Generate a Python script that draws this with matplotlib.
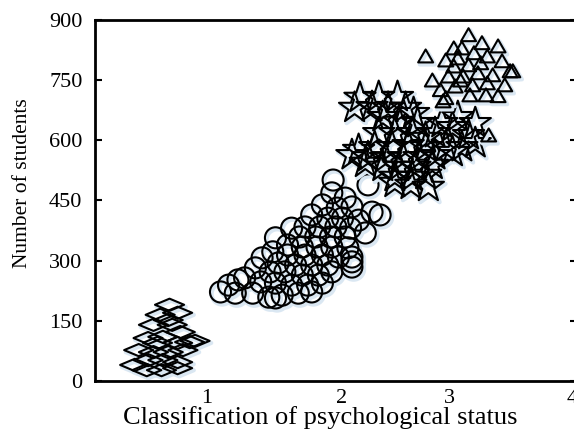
import matplotlib
matplotlib.use("Agg")
import matplotlib.pyplot as plt
import matplotlib.patheffects as pe
from matplotlib.path import Path
from matplotlib.transforms import ScaledTranslation

# marker clusters (x = classification, y = number of students)
diamond_x = [0.72, 0.78, 0.65, 0.71, 0.60, 0.74, 0.80, 0.87, 0.56, 0.67, 0.63, 0.78,
             0.49, 0.60, 0.71, 0.82, 0.46, 0.56, 0.67, 0.78, 0.55, 0.66, 0.78, 0.91]
diamond_y = [190, 170, 165, 152, 140, 140, 122, 97, 107, 110, 95, 95,
             77, 72, 72, 77, 40, 52, 52, 47, 27, 27, 32, 100]

circle_x = [1.94, 2.20, 1.93, 2.03, 1.86, 1.97, 2.08, 2.23, 1.78, 1.90, 2.01, 2.13,
            1.73, 1.84, 1.96, 2.07, 2.18, 1.63, 1.69, 1.81, 1.92, 2.03, 1.60, 1.71,
            1.82, 1.93, 2.05, 1.51, 1.49, 1.60, 1.73, 1.86, 1.98, 2.08, 1.41, 1.53,
            1.66, 1.78, 1.90, 1.36, 1.47, 1.58, 1.71, 1.83, 1.93, 2.08, 1.28, 1.40,
            1.51, 1.63, 1.75, 1.86, 1.16, 1.23, 1.10, 1.21, 1.34, 1.46, 1.56, 1.68,
            1.78, 1.51, 2.29, 2.08]
circle_y = [501, 489, 469, 456, 439, 431, 434, 421, 414, 406, 406, 401,
            384, 384, 384, 381, 369, 381, 359, 359, 359, 359, 339, 334,
            334, 334, 332, 357, 322, 314, 314, 314, 309, 309, 307, 294,
            289, 289, 289, 282, 272, 272, 264, 264, 272, 297, 257, 247,
            244, 239, 239, 244, 239, 252, 222, 219, 219, 209, 214, 219,
            222, 207, 414, 284]

star_x = [2.14, 2.28, 2.42, 2.10, 2.23, 2.35, 2.48, 2.54, 2.31, 2.43, 2.57, 2.75,
          2.87, 3.00, 2.70, 2.83, 2.95, 2.28, 2.40, 2.53, 2.63, 2.13, 2.25, 2.38,
          2.50, 2.63, 2.78, 2.90, 3.00, 2.08, 2.20, 2.33, 2.46, 2.58, 2.70, 2.83,
          2.18, 2.31, 2.43, 2.55, 2.68, 2.40, 2.53, 2.63, 2.40, 2.52, 2.65]
star_y = [706, 708, 708, 681, 683, 681, 681, 668, 658, 646, 643, 643,
          658, 643, 618, 633, 613, 618, 618, 618, 606, 576, 583, 583,
          588, 583, 583, 583, 593, 563, 558, 556, 558, 558, 563, 571,
          544, 534, 534, 534, 539, 509, 509, 514, 494, 489, 484]

tri_x = [2.95, 2.84, 3.05, 3.17, 2.63, 2.90, 2.99, 2.78, 2.87, 3.09, 2.84, 2.95,
         3.04, 3.20, 2.68, 2.80, 2.91, 3.02, 3.13, 3.28, 2.74, 2.85, 2.98, 3.09,
         3.22, 2.78, 2.96, 3.08, 3.17, 3.26, 2.76, 3.10, 2.89]
tri_y = [858, 825, 838, 830, 805, 825, 813, 795, 800, 805, 780, 783,
         788, 793, 745, 755, 755, 763, 758, 768, 721, 730, 733, 738,
         733, 701, 708, 708, 706, 768, 693, 608, 745]

y_ticks = [0, 150, 300, 450, 600, 750, 900]
x_tick_pos = [1, 2, 2.81, 3.72]
x_tick_labels = ["1", "2", "3", "4"]
x_tick_drop = [0, 0, 5, 1.5]   # points; labels in the source sit unevenly

plt.rcParams["font.family"] = ["Liberation Serif", "DejaVu Serif"]

flat_diamond = Path([(-1, 0), (0, 0.42), (1, 0), (0, -0.42), (-1, 0)],
                    [Path.MOVETO, Path.LINETO, Path.LINETO, Path.LINETO, Path.CLOSEPOLY])
triangle = Path([(-1, -0.577), (1, -0.577), (0, 1.155), (-1, -0.577)],
                [Path.MOVETO, Path.LINETO, Path.LINETO, Path.CLOSEPOLY])

fig = plt.figure(figsize=(5.74, 4.30), dpi=100)
ax = fig.add_axes([0.1655, 0.114, 0.84, 0.8395])

shadow = [pe.Stroke(offset=(1.2, -1.5), linewidth=3, foreground="#dae7f2"), pe.Normal()]
kw = dict(facecolors="none", edgecolors="black", linewidths=1.5, path_effects=shadow)
ax.scatter(diamond_x, diamond_y, marker=flat_diamond, s=440, **kw)
ax.scatter(circle_x, circle_y, marker="o", s=230, **kw)
ax.scatter(star_x, star_y, marker="*", s=560, **kw)
ax.scatter(tri_x, tri_y, marker=triangle, s=155, **kw)

ax.set_xlim(0.164, 3.76)
ax.set_ylim(0, 900)
ax.set_yticks(y_ticks)
ax.set_xticks(x_tick_pos, x_tick_labels)
for lbl, dy in zip(ax.get_xticklabels(), x_tick_drop):
    lbl.set_transform(lbl.get_transform() + ScaledTranslation(0, -dy / 72, fig.dpi_scale_trans))

ax.tick_params(axis="y", direction="in", length=5, width=1.5, labelsize=16, pad=9,
               right=True)
ax.tick_params(axis="x", length=0, labelsize=16, pad=6)
for side in ["left", "top", "bottom"]:
    ax.spines[side].set_linewidth(2)
ax.spines["right"].set_visible(False)

fig.text(320 / 574, 1 - 418 / 430, "Classification of psychological status",
         ha="center", va="center", fontsize=19)
fig.text(23 / 574, 1 - 183 / 430, "Number of students", rotation=90,
         ha="center", va="center", fontsize=15.5)

fig.savefig("out.png", dpi=100)
